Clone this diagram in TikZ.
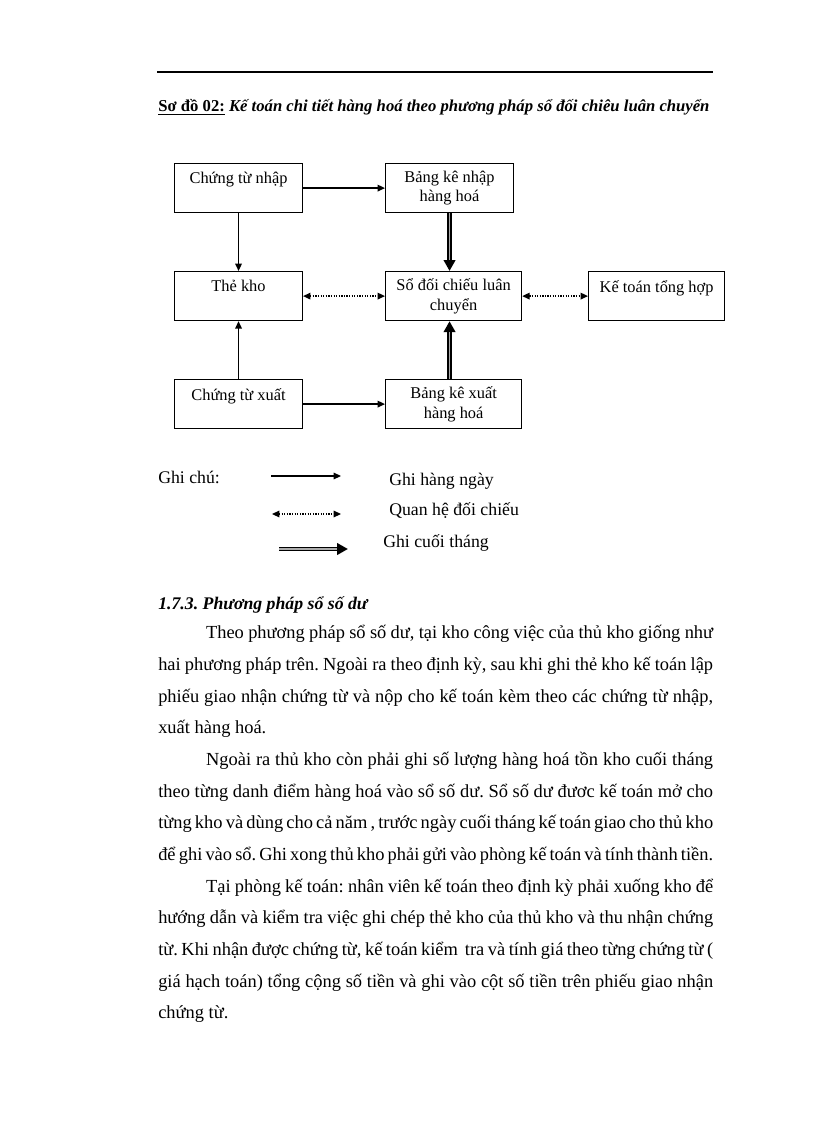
\documentclass[tikz,border=0pt]{standalone}
\usepackage{fontspec}
\setmainfont{Liberation Serif}
\usetikzlibrary{arrows.meta,positioning}
\frenchspacing

\begin{document}
\begin{tikzpicture}[
            x=0.25735mm, y=-0.25735mm,
            >={Triangle[length=1.9mm,width=1.7mm]},
            box/.style={draw, line width=0.9pt, anchor=north west, minimum height=12.6mm, align=center, inner sep=2pt, font=\fontsize{12}{14.5}\selectfont},
            narrow/.style={box, minimum width=32.9mm},
            wide/.style={box, minimum width=35mm},
            daily/.style={->, line width=0.9pt},
            compare/.style={<->, densely dotted, line width=0.9pt},
            monthly/.style={->, >={Triangle[length=2.8mm,width=2.9mm]}, line width=3.2pt, postaction={draw, -, gray!65, line width=1.1pt, shorten >=2.9mm}},
            legend/.style={anchor=base west, inner sep=0pt, font=\fontsize{13}{15}\selectfont}
            ]
            \useasboundingbox (0,0) rectangle (816,1123);

            % page head
            \draw[line width=1.7pt] (157,72) -- (713,72);
            \node [legend, font=\fontsize{12.2}{15}\selectfont] (title) at (158,112) {\underline{\textbf{Sơ đồ 02:}} \textbf{\textit{Kế toán chi tiết hàng hoá theo phương pháp sổ đối chiêu luân chuyển}}};

            % boxes
            \node [narrow] (ctn) at (174,163) {Chứng từ nhập\\~};
            \node [narrow] (bkn) at (385,163) {Bảng kê nhập\\hàng hoá};
            \node [narrow] (tk) at (174,271) {Thẻ kho\\~};
            \node [wide] (sdc) at (385,271) {Sổ đối chiếu luân\\chuyển};
            \node [wide] (ktth) at (588,271) {Kế toán tổng hợp\\~};
            \node [narrow] (ctx) at (174,379) {Chứng từ xuất\\~};
            \node [wide] (bkx) at (385,379) {Bảng kê xuất\\hàng hoá};

            \draw[daily] (ctn) -- (bkn);
            \draw[daily] (ctn) -- (tk);
            \draw[daily] (ctx) -- (tk);
            \draw[daily] (ctx) -- (bkx);
            \draw[compare] (tk) -- (sdc);
            \draw[compare] (sdc) -- (ktth);
            \draw[monthly] (bkn.south) -- (bkn.south |- sdc.north);
            \draw[monthly] (bkn.south |- bkx.north) -- (bkn.south |- sdc.south);

            % legend
            \node [legend] (note) at (158,483) {Ghi chú:};
            \coordinate (d1) at (271,476);
            \coordinate (d2) at (341,476);
            \coordinate (c1) at (272,514);
            \coordinate (c2) at (341,514);
            \coordinate (m1) at (279,549);
            \coordinate (m2) at (348,549);
            \draw[daily] (d1) -- (d2);
            \draw[compare] (c1) -- (c2);
            \draw[monthly] (m1) -- (m2);
            \node [legend] (ld) at (389,485) {Ghi hàng ngày};
            \node [legend] (lc) at (389,515) {Quan hệ đối chiếu};
            \node [legend] (lm) at (383,547) {Ghi cuối tháng};

            % text below
            \node [anchor=base west, inner sep=0pt, font=\fontsize{13}{16}\selectfont] (sec) at (158,609) {\textbf{\textit{1.7.3. Phương pháp sổ số dư}}};
            \node [anchor=north west, inner sep=0pt, text width=142.8mm, align=justify, font=\fontsize{13.5}{23.2}\selectfont] (body) at (158,625) {%
            \parindent=0pt\parskip=0pt\relax
            \hspace*{35pt}Theo phương pháp sổ số dư, tại kho công việc của thủ kho giống như\linebreak
            hai phương pháp trên. Ngoài ra theo định kỳ, sau khi ghi thẻ kho kế toán lập\linebreak
            phiếu giao nhận chứng từ và nộp cho kế toán kèm theo các chứng từ nhập,\linebreak
            xuất hàng hoá.\par
            \hspace*{35pt}Ngoài ra thủ kho còn phải ghi số lượng hàng hoá tồn kho cuối tháng\linebreak
            theo từng danh điểm hàng hoá vào sổ số dư. Sổ số dư đươc kế toán mở cho\linebreak
            từng kho và dùng cho cả năm , trước ngày cuối tháng kế toán giao cho thủ kho\linebreak
            để ghi vào sổ. Ghi xong thủ kho phải gửi vào phòng kế toán và tính thành tiền.{\parfillskip=0pt\par}
            \hspace*{35pt}Tại phòng kế toán: nhân viên kế toán theo định kỳ phải xuống kho để\linebreak
            hướng dẫn và kiểm tra việc ghi chép thẻ kho của thủ kho và thu nhận chứng\linebreak
            từ. Khi nhận được chứng từ, kế toán kiểm\ \ tra và tính giá theo từng chứng từ (\linebreak
            giá hạch toán) tổng cộng số tiền và ghi vào cột số tiền trên phiếu giao nhận\linebreak
            chứng từ.};
        \end{tikzpicture}
\end{document}
